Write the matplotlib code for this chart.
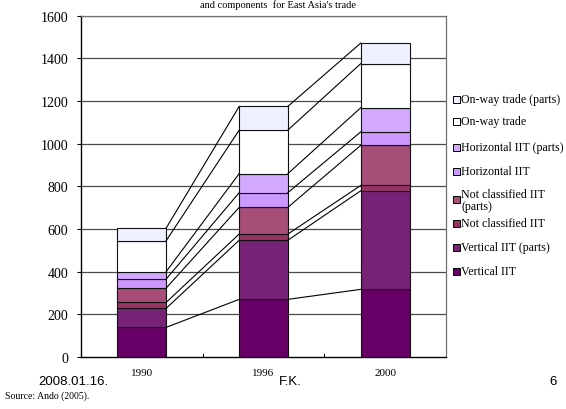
import matplotlib
matplotlib.use("Agg")
import matplotlib.pyplot as plt
from matplotlib.patches import Rectangle

plt.rcParams['font.family'] = ['Liberation Serif', 'DejaVu Serif']

# Trade values by year, stacked bottom to top
years = ["1990", "1996", "2000"]
series_names = [
    "Vertical IIT",
    "Vertical IIT (parts)",
    "Not classified IIT",
    "Not classified IIT\n(parts)",
    "Horizontal IIT",
    "Horizontal IIT (parts)",
    "On-way trade",
    "On-way trade (parts)",
]
vertical_iit = [139, 270, 317]
vertical_iit_parts = [89, 277, 462]
not_classified_iit = [28, 29, 25]
not_classified_iit_parts = [67, 125, 188]
horizontal_iit = [42, 69, 63]
horizontal_iit_parts = [35, 89, 113]
one_way = [145, 204, 207]
one_way_parts = [59, 111, 96]

series_values = [
    vertical_iit, vertical_iit_parts, not_classified_iit,
    not_classified_iit_parts, horizontal_iit, horizontal_iit_parts,
    one_way, one_way_parts,
]
colors = ["#660066", "#772277", "#993366", "#a64d78",
          "#cc99ff", "#d3a8ff", "#ffffff", "#eef1ff"]

y_ticks = [0, 200, 400, 600, 800, 1000, 1200, 1400, 1600]

W, H = 566, 410
fig = plt.figure(figsize=(W / 100, H / 100), dpi=100)
ax = fig.add_axes([81 / W, (H - 358) / H, (446 - 81) / W, (358 - 16.5) / H])

x = list(range(len(years)))
width = 0.4
bottoms = [0] * len(years)
tops_per_series = []
for vals, col in zip(series_values, colors):
    ax.bar(x, vals, width=width, bottom=bottoms, color=col,
           edgecolor="#111111", linewidth=0.8, zorder=3)
    bottoms = [b + v for b, v in zip(bottoms, vals)]
    tops_per_series.append(list(bottoms))

# Series lines joining matching segment tops of neighbouring bars
for tops in tops_per_series:
    for i in range(len(years) - 1):
        ax.plot([x[i] + width / 2, x[i + 1] - width / 2],
                [tops[i], tops[i + 1]], color="black", lw=0.8, zorder=4)

ax.set_xlim(-0.5, 2.5)
ax.set_ylim(0, 1600)
ax.set_yticks(y_ticks)
ax.set_yticklabels([str(t) for t in y_ticks], fontsize=10)
ax.set_xticks(x)
ax.set_xticklabels(years, fontsize=8)
ax.tick_params(axis="x", length=0, pad=8)
ax.tick_params(axis="y", length=3, width=0.8, pad=6)
for b in [0.5, 1.5]:
    ax.plot([b, b], [0, 12], color="black", lw=0.8, zorder=2)
for t in y_ticks[1:]:
    ax.axhline(t, color="#4a4a4a", lw=0.9, zorder=1)
for side in ["top", "right"]:
    ax.spines[side].set_color("#707070")
    ax.spines[side].set_linewidth(0.9)
for side in ["left", "bottom"]:
    ax.spines[side].set_color("black")
    ax.spines[side].set_linewidth(1.0)

# Legend drawn in figure pixels, top entry first
legend_y = [100, 122, 148, 172, 200, 224, 248, 272]
for name, col, ly in zip(reversed(series_names), reversed(colors), legend_y):
    fig.add_artist(Rectangle(((453) / W, (H - ly - 3.5) / H), 6.5 / W, 6.5 / H,
                             facecolor=col, edgecolor="black", lw=0.7,
                             transform=fig.transFigure))
    va_y = ly if "\n" not in name else ly + 1
    fig.text(461 / W, (H - va_y) / H, name, fontsize=8.6, va="center",
             ha="left", linespacing=0.9)

fig.text(278 / W, (H - 5) / H, "and components  for East Asia's trade",
         fontsize=7.5, ha="center", va="center")

fig.text(38 / W, (H - 382.5) / H, "2008.01.16.", fontsize=9.5,
         family=["Liberation Sans", "DejaVu Sans"], ha="left", va="center")
fig.text(290 / W, (H - 382.5) / H, "F.K.", fontsize=9.5,
         family=["Liberation Sans", "DejaVu Sans"], ha="center", va="center")
fig.text(553 / W, (H - 382.5) / H, "6", fontsize=9.5,
         family=["Liberation Sans", "DejaVu Sans"], ha="center", va="center")
fig.add_artist(Rectangle((0, 0), 1, (H - 388) / H, facecolor="white",
                         edgecolor="none", transform=fig.transFigure,
                         zorder=5))
fig.text(5 / W, (H - 396) / H, "Source: Ando (2005).", fontsize=7,
         ha="left", va="center", zorder=6)

fig.savefig("out.png", dpi=100)
